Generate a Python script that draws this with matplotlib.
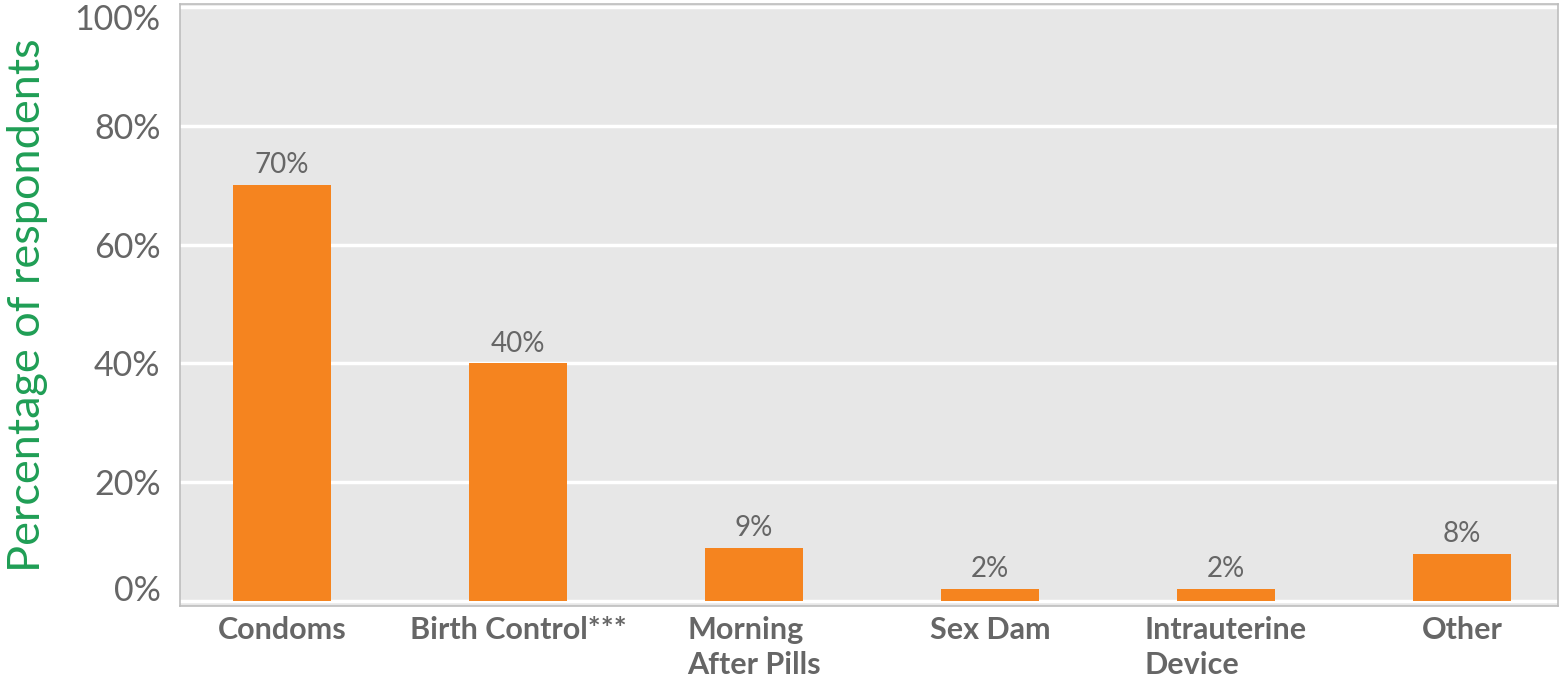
import matplotlib.pyplot as plt
import numpy as np

# survey data
methods = ['Condoms', 'Birth Control***', 'Morning\nAfter Pills', 'Sex Dam',
           'Intrauterine\nDevice', 'Other']
percent = [70, 40, 9, 2, 2, 8]
yticks = [0, 20, 40, 60, 80, 100]

orange = '#f5841f'
grey_txt = '#666666'
green = '#1f9e55'

plt.rcParams['font.family'] = ['Lato', 'DejaVu Sans']

fig = plt.figure(figsize=(15.6, 6.8), dpi=100)
ax = fig.add_axes([0.1154, 0.109, 0.8833, 0.885])
ax.set_facecolor('#e7e7e7')

x = np.arange(len(methods))
bars = ax.bar(x, percent, width=0.415, color=orange, zorder=3)

# value labels above the bars
for xi, v in zip(x, percent):
    ax.annotate(f'{v}%', (xi, v), xytext=(0, 5), textcoords='offset points',
                ha='center', va='bottom', fontsize=20, color=grey_txt)

ax.set_xlim(-0.432, 5.407)
ax.set_ylim(-0.8, 100.5)
ax.set_yticks(yticks)
# end labels are nudged inward, drawn separately below
ax.set_yticklabels(['' if t in (0, 100) else f'{t}%' for t in yticks],
                   fontsize=24.5, color=grey_txt)
for t, dy in ((0, 7), (100, -9)):
    ax.annotate(f'{t}%', (0, t), xycoords=('axes fraction', 'data'),
                xytext=(-14, dy), textcoords='offset points',
                ha='right', va='center', fontsize=24.5, color=grey_txt)

ax.yaxis.grid(True, color='white', linewidth=2.5, zorder=0)
ax.set_axisbelow(True)

ax.set_xticks(x)
ax.set_xticklabels(methods, fontsize=22, fontweight='bold', color=grey_txt,
                   va='top', multialignment='left', linespacing=1.3)
ax.tick_params(axis='both', length=0)
ax.tick_params(axis='x', pad=7)
ax.tick_params(axis='y', pad=14)

for s in ax.spines.values():
    s.set_color('#bdbdbd')
    s.set_linewidth(1.2)

ax.set_ylabel('Percentage of respondents', fontsize=32.5, color=green)
ax.yaxis.set_label_coords(-0.096, 0.5)

fig.savefig('out.png', dpi=100, facecolor='white')
